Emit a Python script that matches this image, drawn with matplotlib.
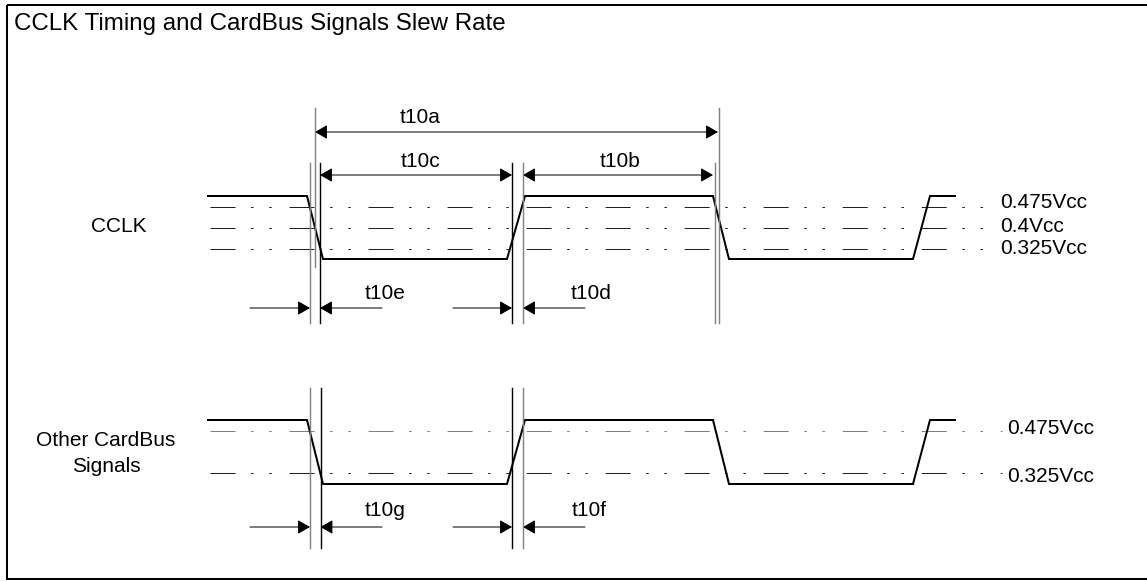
import matplotlib
matplotlib.use("Agg")
import matplotlib.pyplot as plt
from matplotlib.patches import FancyArrowPatch, Rectangle

plt.rcParams['font.family'] = ['Liberation Sans', 'DejaVu Sans']
plt.rcParams['lines.scale_dashes'] = False

# ---------------- data ----------------
title = "CCLK Timing and CardBus Signals Slew Rate"

# waveform edge times (horizontal position) and levels
wave_t = [208, 307, 323, 507, 525, 713, 729, 913, 930, 955]
wave_state = [1, 1, 0, 0, 1, 1, 0, 0, 1, 1]

cclk_high, cclk_low = 196, 259
other_high, other_low = 420, 484

cclk_thr_labels = ["0.475Vcc", "0.4Vcc", "0.325Vcc"]
cclk_thr_y = [207, 228, 249]
cclk_label_y = [202, 226, 248]
other_thr_labels = ["0.475Vcc", "0.325Vcc"]
other_thr_y = [431, 473]
other_label_y = [428, 476]

# reference (extension) lines: x, y0, y1, colour class
ref_x = [310, 315, 320, 512, 523, 714.5, 718.5, 310, 320.5, 512, 523]
ref_y0 = [163, 108, 163, 163, 163, 163, 108, 388, 388, 388, 388]
ref_y1 = [323, 267, 323, 323, 323, 323, 323, 548, 548, 548, 548]
ref_dark = [False, False, True, True, False, False, False, False, True, True, False]

# double-headed timing arrows
dbl_names = ["t10a", "t10c", "t10b"]
dbl_x0 = [315, 320, 523]
dbl_x1 = [718, 512, 713]
dbl_y = [132, 175, 175]
dbl_text_x = [420, 420, 620]
dbl_text_y = [123, 167, 167]

# single-headed arrows (tail x, tip x, y)
sgl_tail = [250, 382, 453, 585, 250, 382, 453, 585]
sgl_tip = [310, 320, 512, 523, 310, 320.5, 512, 523]
sgl_y = [308, 308, 308, 308, 527, 527, 527, 527]
sgl_names = ["t10e", "t10d", "t10g", "t10f"]
sgl_text_x = [385, 591, 385, 589]
sgl_text_y = [299, 299, 516, 516]

# ---------------- drawing ----------------
W, H = 1147, 581
fig = plt.figure(figsize=(W / 100, H / 100), dpi=100)
ax = fig.add_axes([0, 0, 1, 1])
ax.set_xlim(0, W)
ax.set_ylim(H, 0)
ax.axis('off')

FS = 15
FS_TITLE = 17.4
GRAY = '#808080'
PX = 0.72  # points per pixel at 100 dpi

ax.add_patch(Rectangle((7, 5), W + 20, 574, fill=False, lw=2 * PX, ec='black'))
ax.text(14, 30, title, fontsize=FS_TITLE, ha='left', va='baseline')

dash = (0, (18, 11.2, 1.8, 11.3, 1.8, 12.8))

# threshold lines
for i, (y, ly, lab) in enumerate(zip(cclk_thr_y, cclk_label_y, cclk_thr_labels)):
    ax.plot([210, 1000], [y, y], color='#202020', lw=1.0 * PX, linestyle=dash)
    ax.text(1000, ly, lab, fontsize=FS, ha='left', va='center')
for i, (y, ly, lab) in enumerate(zip(other_thr_y, other_label_y, other_thr_labels)):
    col = GRAY if i == 0 else '#202020'
    ax.plot([210, 1002], [y, y], color=col, lw=1.0 * PX, linestyle=dash)
    ax.text(1007, ly, lab, fontsize=FS, ha='left', va='center')

# waveforms
cclk_y = [cclk_high if s else cclk_low for s in wave_state]
other_y = [other_high if s else other_low for s in wave_state]
ax.plot(wave_t, cclk_y, color='black', lw=2 * PX, solid_joinstyle='miter')
ax.plot(wave_t, other_y, color='black', lw=2 * PX, solid_joinstyle='miter')

# reference lines
for x, y0, y1, dk in zip(ref_x, ref_y0, ref_y1, ref_dark):
    ax.plot([x, x], [y0, y1], color='black' if dk else GRAY, lw=1.4 * PX)

# arrows
def arrow(x0, y0, x1, y1, style):
    p = FancyArrowPatch((x0, y0), (x1, y1), arrowstyle=style,
                        mutation_scale=1, shrinkA=0, shrinkB=0,
                        color='black', lw=1.0 * PX)
    ax.add_patch(p)

for name, x0, x1, y, tx, ty in zip(dbl_names, dbl_x0, dbl_x1, dbl_y, dbl_text_x, dbl_text_y):
    arrow(x0, y, x1, y, '<|-|>,head_length=7.5,head_width=4.3')
    ax.text(tx, ty, name, fontsize=FS, ha='center', va='baseline')

for x0, x1, y in zip(sgl_tail, sgl_tip, sgl_y):
    arrow(x0, y, x1, y, '-|>,head_length=7.5,head_width=4.3')

for name, tx, ty in zip(sgl_names, sgl_text_x, sgl_text_y):
    ax.text(tx, ty, name, fontsize=FS, ha='center', va='baseline')

ax.text(119, 227, "CCLK", fontsize=FS, ha='center', va='center')
ax.text(106, 440, "Other CardBus", fontsize=FS, ha='center', va='center')
ax.text(106, 466, "Signals", fontsize=FS, ha='center', va='center')

fig.savefig('out.png', dpi=100)
